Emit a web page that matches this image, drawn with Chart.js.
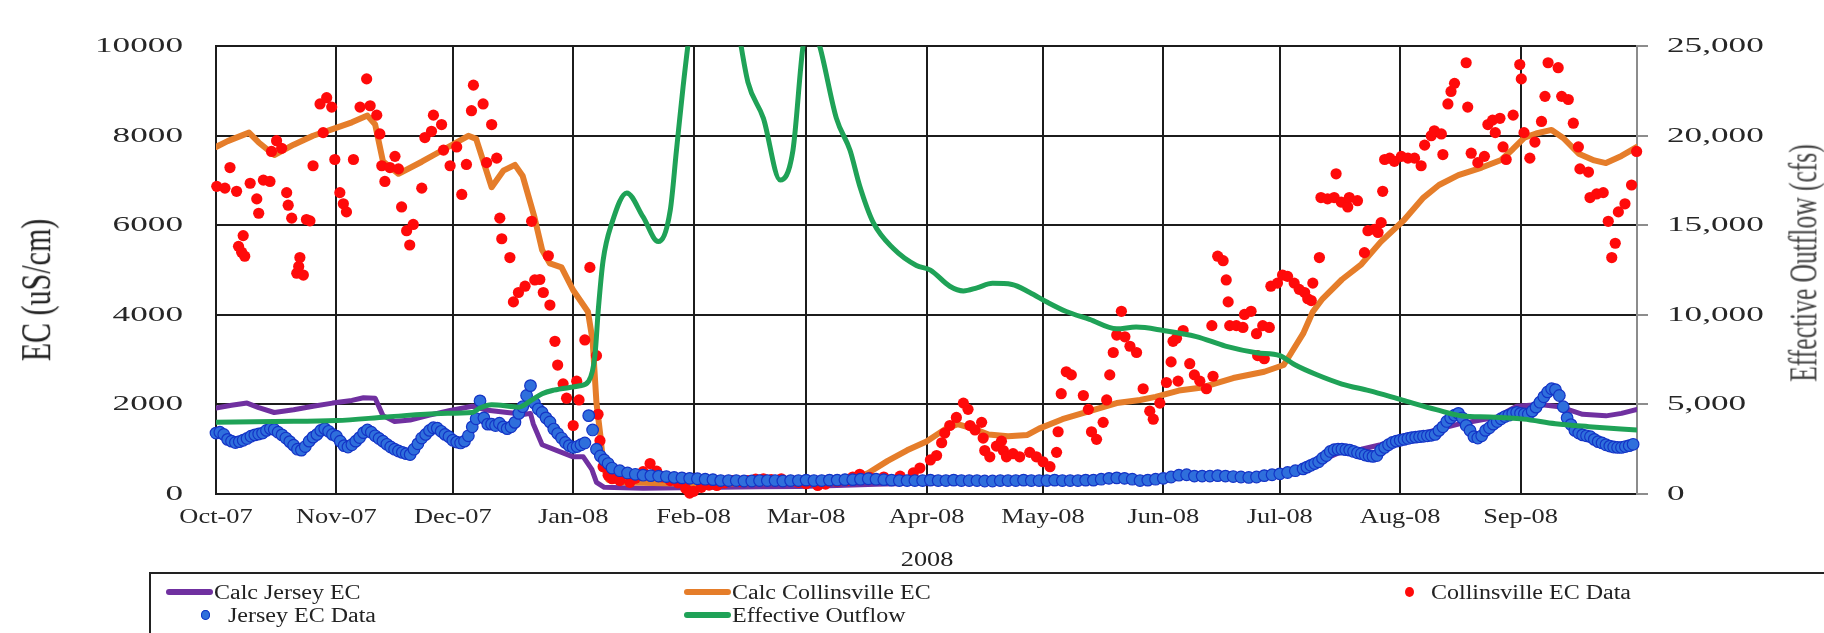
<!DOCTYPE html>
<html>
<head>
<meta charset="utf-8">
<title>EC and Effective Outflow, Oct 2007 - Sep 2008</title>
<script src="https://cdn.jsdelivr.net/npm/chart.js@4.4.1/dist/chart.umd.min.js"></script>
<style>
  html, body { margin: 0; padding: 0; background: #fff; }
  #stage { position: relative; width: 1824px; height: 633px; overflow: hidden; background: #fff; }
  #chart { position: absolute; left: 0; top: 0; }
  .txt { position: absolute; font-family: 'Liberation Serif', 'Times New Roman', serif; color: #222; white-space: nowrap; line-height: 1; }
  .title-left { left: 36px; top: 290px; font-size: 30px; transform: translate(-50%, -50%) rotate(-90deg) scaleY(1.4); }
  .title-right { left: 1803px; top: 263px; font-size: 25.5px; color: #444; transform: translate(-50%, -50%) rotate(-90deg) scaleY(1.6); }
  .year { left: 927px; top: 559px; font-size: 21px; transform: translate(-50%, -50%) scaleX(1.25); }
  .legend-box { position: absolute; left: 149px; top: 572px; width: 1720px; height: 100px; border-top: 2px solid #222; border-left: 2px solid #222; }
  .item { position: absolute; height: 22px; display: flex; align-items: center; }
  .sw-line { width: 47px; height: 6px; border-radius: 3px; }
  .sw-dot { width: 9px; height: 10px; border-radius: 50%; }
  .lbl { font-family: 'Liberation Serif', 'Times New Roman', serif; font-size: 20px; color: #222; white-space: nowrap; transform: scaleX(1.2); transform-origin: left center; }
</style>
</head>
<body>
<div id="stage">
  <canvas id="chart" width="1824" height="633"></canvas>
  <div class="txt title-left">EC (uS/cm)</div>
  <div class="txt title-right">Effective Outflow (cfs)</div>
  <div class="txt year">2008</div>
  <div class="legend-box"></div>
  <div class="item" style="left:166px; top:581px;"><div class="sw-line" style="background:#7030a0"></div><span class="lbl" style="margin-left:1px">Calc Jersey EC</span></div>
  <div class="item" style="left:684px; top:581px;"><div class="sw-line" style="background:#e57d2a"></div><span class="lbl" style="margin-left:1px">Calc Collinsville EC</span></div>
  <div class="item" style="left:1405px; top:581px;"><div class="sw-dot" style="background:#ff0a0a"></div><span class="lbl" style="margin-left:17px">Collinsville EC Data</span></div>
  <div class="item" style="left:201px; top:604px;"><div class="sw-dot" style="background:#2f6fdc; box-shadow: inset 0 0 0 1px #1131c4"></div><span class="lbl" style="margin-left:18px">Jersey EC Data</span></div>
  <div class="item" style="left:684px; top:604px;"><div class="sw-line" style="background:#1fa257"></div><span class="lbl" style="margin-left:1px">Effective Outflow</span></div>
</div>
<script>
// Month boundaries, counted in days from 1 Oct 2007
const monthStartDays = [0, 31, 61, 92, 123, 152, 183, 213, 244, 274, 305, 336, 366];
const monthLabels = ['Oct-07', 'Nov-07', 'Dec-07', 'Jan-08', 'Feb-08', 'Mar-08', 'Apr-08', 'May-08', 'Jun-08', 'Jul-08', 'Aug-08', 'Sep-08', ''];
const ecTickLabels = ['0', '2000', '4000', '6000', '8000', '10000'];
const flowTickLabels = ['0', '5,000', '10,000', '15,000', '20,000', '25,000'];

// Calc Jersey EC (uS/cm)
const calcJerseyDays = [0, 4, 8, 11, 15, 20, 25, 30, 35, 38, 41, 43, 46, 50, 55, 60, 66, 70, 75, 79.5,
  81, 81.7, 84, 87.7, 92, 94.6, 96.8, 98, 100, 110, 120, 130, 140, 150, 160, 170, 180, 190, 200, 210,
  220, 230, 240, 250, 260, 270, 275, 280, 285, 290, 295, 300, 305, 310, 315, 320, 325, 330, 335, 341,
  346, 352, 358, 362, 366];
const calcJerseyEC = [1920, 1980, 2030, 1930, 1820, 1880, 1960, 2030, 2090, 2150, 2140, 1750, 1620, 1650, 1760, 1860, 1960, 1870, 1820, 1780,
  1800, 1570, 1100, 975, 830, 830, 550, 260, 150, 130, 140, 150, 160, 170, 190, 220, 240, 250, 260, 260,
  280, 300, 320, 380, 400, 420, 450, 560, 760, 950, 1000, 1100, 1230, 1330, 1450, 1560, 1640, 1720, 1960, 2000,
  1950, 1780, 1745, 1800, 1890];

// Calc Collinsville EC (uS/cm)
const calcCollinsvilleDays = [0, 3, 8.5, 11, 15, 20, 25, 30, 35, 39, 41, 43, 47, 53, 59, 65, 67, 71, 74, 77,
  79, 82, 84, 86, 89, 92, 94, 95.8, 97, 98, 99, 99.8, 101, 105, 115, 125, 135, 145, 155, 160,
  163, 168, 173, 178, 183, 188, 191, 195, 199, 204, 209, 212, 218, 225, 232, 238, 242, 248, 254, 262,
  270, 275, 277, 280, 282.5, 285, 290, 295, 300, 306, 311, 315, 320, 326, 331, 334, 337, 340, 344, 347,
  351, 355, 358, 362, 366];
const calcCollinsvilleEC = [7750, 7880, 8070, 7850, 7570, 7800, 8000, 8150, 8300, 8450, 8250, 7430, 7150, 7420, 7710, 8000, 7930, 6850, 7220, 7350,
  7100, 6190, 5450, 5150, 5060, 4550, 4300, 4070, 3430, 2030, 1310, 610, 320, 260, 240, 230, 240, 250, 250, 260,
  300, 470, 740, 975, 1170, 1460, 1560, 1460, 1330, 1290, 1320, 1460, 1670, 1850, 2030, 2100, 2170, 2310, 2380, 2590,
  2730, 2880, 3160, 3580, 4070, 4360, 4790, 5130, 5630, 6120, 6620, 6900, 7120, 7290, 7460, 7700, 7960, 8050, 8130, 7950,
  7600, 7450, 7390, 7550, 7750];

// Collinsville EC Data (uS/cm)
const collinsvilleDays = [0.2, 2.3, 3.6, 5.3, 5.8, 6.6, 7, 7.4, 8.8, 10.5,
  11, 12.2, 13.9, 14.3, 15.6, 16.9, 18.2, 18.6, 19.5, 20.8,
  21.3, 21.6, 22.5, 23.3, 24.2, 25, 26.8, 27.6, 28.5, 29.8,
  30.6, 31.9, 32.8, 33.6, 35.4, 37.1, 38.8, 39.7, 41.4, 42.2,
  42.7, 43.5, 44.8, 46.1, 47, 47.8, 49.1, 49.9, 50.8, 53,
  53.8, 55.5, 56, 58.1, 58.6, 60.3, 62, 63.3, 64.5, 65.8,
  66.3, 68.8, 69.7, 71, 72.3, 73.1, 73.6, 75.7, 76.6, 77.9,
  79.6, 81.3, 82.1, 83.4, 84.3, 85.6, 86, 87.3, 88, 89.4,
  90.3, 92, 92.9, 93.5, 95, 96.3, 98, 98.4, 98.9, 99.7,
  101, 102, 104, 106.6, 108, 110, 111.8, 113.5, 115, 117,
  119, 121, 122, 123, 125, 127, 129, 131, 133, 135,
  137, 139, 141, 143, 145.6, 148, 150, 152, 155, 157,
  160, 162.5, 164, 165.8, 168.4, 172, 176.2, 179.6, 181.3, 184,
  185.6, 186.9, 187.7, 189, 190.7, 192.5, 193.7, 194.2, 195.5, 197.2,
  197.6, 198, 199.3, 201, 202.3, 202.8, 203.6, 205.3, 207, 209.6,
  211.3, 213, 214.8, 216.5, 216.9, 217.7, 219, 220.3, 223.4, 224.7,
  225.5, 226.8, 228.5, 229.4, 230.2, 231.1, 232, 233.2, 234.1, 235.4,
  237.1, 238.8, 240.5, 241.4, 243.1, 244.8, 246, 246.5, 247.4, 247.8,
  249.1, 250.8, 252, 253.4, 255.1, 256.5, 256.8, 258, 259.4, 260.2,
  260.7, 261.1, 262.8, 264.5, 264.9, 266.6, 268, 268.3, 269.6, 270,
  271.3, 271.7, 273.4, 274.7, 276, 277.7, 279, 280.4, 281.2, 282.1,
  282.5, 284.2, 284.6, 286.3, 288, 288.5, 289.8, 291.5, 291.9, 294,
  295.8, 296.7, 298.4, 299.3, 300.1, 300.5, 301, 302.3, 303.5, 305.3,
  307, 308.7, 310.4, 311.3, 313, 313.8, 315.6, 316, 317.3, 318.1,
  319, 322, 322.4, 323.3, 325, 326.7, 327.6, 328.8, 329.5, 330.7,
  331.5, 332.3, 334.1, 335.8, 336.2, 336.9, 338.4, 339.7, 341.4, 342.3,
  343.1, 345.7, 346.6, 348.3, 349.6, 350.9, 351.3, 353.5, 353.9, 355.6,
  357.3, 358.6, 359.5, 360.4, 361.2, 362.9, 364.6, 365.9];
const collinsvilleEC = [6870, 6830, 7290, 6760, 5530, 5400, 5770, 5310, 6940, 6590,
  6270, 7010, 6980, 7650, 7890, 7720, 6730, 6450, 6160, 4930,
  5080, 5280, 4890, 6130, 6100, 7330, 8710, 8070, 8850, 8640,
  7470, 6730, 6480, 6300, 7470, 8640, 9270, 8670, 8460, 8040,
  7330, 6980, 7290, 7540, 7260, 6410, 5880, 5560, 6020, 6830,
  7960, 8100, 8460, 8250, 7680, 7330, 7750, 6690, 7360, 8560,
  9130, 8710, 7400, 8250, 7500, 6160, 5700, 5280, 4290, 4500,
  4640, 6090, 4780, 4790, 4500, 5320, 4220, 3410, 2880, 2460,
  2140, 1530, 2520, 2100, 3440, 5060, 3090, 1780, 1190, 610,
  420, 340, 300, 260, 350, 500, 680, 510, 380, 300,
  250, 120, 20, 60, 150, 200, 190, 250, 300, 280,
  300, 330, 340, 320, 340, 300, 260, 230, 190, 220,
  280, 300, 380, 440, 370, 380, 400, 470, 580, 760,
  860, 1145, 1360, 1530, 1710, 2030, 1890, 1530, 1430, 1600,
  1250, 970, 830, 1070, 1180, 970, 830, 900, 830, 930,
  830, 720, 610, 930, 1390, 2240, 2730, 2660, 2200, 1890,
  1390, 1220, 1600, 2100, 2660, 3160, 3550, 4080, 3510, 3300,
  3160, 2350, 1850, 1670, 2030, 2490, 2950, 3410, 3480, 2520,
  3650, 2910, 2660, 2520, 2350, 3760, 2630, 5310, 5210, 4780,
  4290, 3760, 3760, 3720, 4010, 4080, 3580, 3090, 3760, 3020,
  3720, 4640, 4710, 4890, 4860, 4710, 4570, 4500, 4360, 4320,
  4710, 5280, 6620, 6590, 6620, 7150, 6520, 6410, 6620, 6550,
  5390, 5880, 5910, 5840, 6060, 6760, 7470, 7500, 7430, 7540,
  7500, 7500, 7330, 7790, 8000, 8110, 8040, 7580, 8710, 8990,
  9170, 9630, 8640, 7610, 7400, 7540, 8250, 8350, 8070, 8390,
  7750, 7470, 8460, 9590, 9270, 8070, 7500, 7860, 8320, 8880,
  9630, 9520, 8880, 8810, 8280, 7750, 7260, 7190, 6620, 6700,
  6730, 6090, 5280, 5600, 6300, 6480, 6900, 7650];

// Jersey EC Data (uS/cm)
const jerseyDays = [0, 1, 2, 3, 4, 5, 6, 7, 8, 9,
  10, 11, 12, 13, 14, 15, 16, 17, 18, 19,
  20, 21, 22, 23, 24, 25, 26, 27, 28, 29,
  30, 31, 32, 33, 34, 35, 36, 37, 38, 39,
  40, 41, 42, 43, 44, 45, 46, 47, 48, 49,
  50, 51, 52, 53, 54, 55, 56, 57, 58, 59,
  60, 61, 62, 63, 64, 65, 66, 67, 68, 69,
  70, 71, 72, 73, 74, 75, 76, 77, 78, 79,
  80, 81, 82, 83, 84, 85, 86, 87, 88, 89,
  90, 91, 92, 93, 94, 95, 96, 97, 98, 99,
  100, 101,
  102, 104, 106, 108, 110, 112, 114, 116, 118, 120,
  122, 124, 126, 128, 130, 132, 134, 136, 138, 140,
  142, 144, 146, 148, 150, 152, 154, 156, 158, 160,
  162, 164, 166, 168, 170, 172, 174, 176, 178, 180,
  182, 184, 186, 188, 190, 192, 194, 196, 198, 200,
  202, 204, 206, 208, 210, 212, 214, 216, 218, 220,
  222, 224, 226, 228, 230, 232, 234, 236, 238, 240,
  242, 244, 246, 248, 250, 252, 254, 256, 258, 260,
  262, 264, 266, 268, 270, 272, 274, 276, 278, 280,
  281, 282, 283, 284, 285, 286, 287, 288, 289, 290,
  291, 292, 293, 294, 295, 296, 297, 298, 299, 300,
  301, 302, 303, 304, 305, 306, 307, 308, 309, 310,
  311, 312, 313, 314, 315, 316, 317, 318, 319, 320,
  321, 322, 323, 324, 325, 326, 327, 328, 329, 330,
  331, 332, 333, 334, 335, 336, 337, 338, 339, 340,
  341, 342, 343, 344, 345, 346, 347, 348, 349, 350,
  351, 352, 353, 354, 355, 356, 357, 358, 359, 360,
  361, 362, 363, 364, 365];
const jerseyEC = [1360, 1380, 1330, 1220, 1180, 1150, 1170, 1200, 1240, 1290,
  1320, 1340, 1360, 1420, 1460, 1440, 1380, 1320, 1250, 1170,
  1090, 1000, 980, 1060, 1180, 1270, 1330, 1420, 1460, 1400,
  1330, 1290, 1180, 1080, 1050, 1100, 1180, 1260, 1370, 1430,
  1380, 1300, 1240, 1180, 1110, 1050, 1000, 960, 930, 900,
  880, 1000, 1120, 1250, 1330, 1420, 1480, 1470, 1400, 1330,
  1280, 1200, 1160, 1140, 1180, 1300, 1500, 1680, 2080, 1700,
  1560, 1560, 1530, 1580, 1500, 1460, 1500, 1600, 1800, 1950,
  2200, 2420, 2030, 1900, 1820, 1700, 1610, 1450, 1350, 1250,
  1150, 1080, 1040, 1060, 1100, 1140, 1750, 1430, 1000, 850,
  760, 680,
  580, 520, 470, 440, 420, 410, 400, 390, 370, 360,
  350, 340, 330, 320, 300, 300, 300, 290, 290, 300,
  300, 300, 290, 300, 300, 310, 300, 300, 310, 310,
  320, 320, 330, 340, 330, 320, 310, 300, 300, 300,
  300, 310, 300, 300, 310, 300, 300, 300, 290, 290,
  300, 300, 300, 310, 300, 300, 300, 310, 300, 300,
  300, 310, 310, 330, 350, 360, 350, 330, 300, 310,
  330, 350, 380, 420, 430, 400, 400, 400, 410, 400,
  390, 380, 370, 380, 410, 430, 450, 480, 520, 560,
  600, 640, 680, 720, 800, 860, 950, 990, 1000, 1000,
  990, 980, 950, 920, 900, 870, 850, 840, 860, 980,
  1040, 1100, 1150, 1180, 1200, 1220, 1240, 1260, 1270, 1280,
  1290, 1300, 1310, 1330, 1420, 1500, 1620, 1700, 1760, 1800,
  1700, 1530, 1420, 1280, 1250, 1300, 1420, 1480, 1560, 1620,
  1680, 1730, 1760, 1800, 1820, 1800, 1790, 1780, 1850, 1940,
  2050, 2170, 2280, 2350, 2330, 2200, 1950, 1700, 1550, 1420,
  1360, 1320, 1300, 1280, 1220, 1170, 1140, 1100, 1070, 1050,
  1040, 1040, 1060, 1080, 1110];

// Effective Outflow (cfs), right axis
const outflowDays = [0, 15, 31, 44, 58, 66, 68, 71, 76, 78,
  81, 84, 87, 93.7, 96, 97.6, 98.5, 99.7, 102, 105.8,
  110, 113.9, 117, 118.6, 120.3, 122, 126, 130, 134, 137,
  141, 145.3, 148.6, 151.2, 153, 155.5, 159.8, 163.3, 165.8, 169.3,
  174.4, 180.4, 184, 189, 192.5, 196, 200, 205, 209.6, 214,
  219, 225, 232, 237, 244, 252.5, 260, 268, 274, 278,
  283.4, 290, 297, 305.6, 314.3, 321, 328, 336.8, 345, 353.6,
  366];
const outflowCfs = [4010, 4050, 4100, 4300, 4500, 4550, 4800, 4980, 4890, 4850,
  5200, 5600, 5800, 6040, 6300, 7730, 10380, 13030, 15150, 16810,
  15470, 14090, 15840, 19190, 22720, 25800, 31000, 30000, 26500, 23000,
  20970, 17530, 19190, 25000, 26500, 25000, 20970, 19190, 17200, 15150,
  13720, 12760, 12500, 11600, 11340, 11510, 11760, 11700, 11250, 10720,
  10190, 9750, 9220, 9320, 9130, 8790, 8260, 7890, 7730, 7200,
  6670, 6140, 5770, 5240, 4710, 4360, 4300, 4180, 3920, 3760,
  3570];

const toPoints = (xs, ys) => xs.map((x, i) => ({ x: x, y: ys[i] }));

// Tick labels are drawn a little wider than the font's natural proportions.
const labelStretch = { x: 1.2, y: 1.6, y1: 1.6 };
const stretchLabels = {
  id: 'stretchLabels',
  beforeDraw(chart) {
    Object.values(chart.scales).forEach((scale) => {
      if (scale.__stretched) return;
      const k = labelStretch[scale.id] || 1;
      const drawLabels = scale.drawLabels;
      scale.drawLabels = function (area) {
        const c = this.ctx;
        const fill = c.fillText;
        c.fillText = function (text, x, y, maxWidth) {
          this.save();
          this.translate(x, y);
          this.scale(k, 1);
          if (maxWidth === undefined) fill.call(this, text, 0, 0);
          else fill.call(this, text, 0, 0, maxWidth / k);
          this.restore();
        };
        try { drawLabels.call(this, area); } finally { delete c.fillText; }
      };
      scale.__stretched = true;
    });
  }
};

Chart.defaults.font.family = "'Liberation Serif', 'Times New Roman', serif";

const gridBlack = '#1c1c1c';
const tickText = '#262626';

new Chart(document.getElementById('chart'), {
  type: 'scatter',
  data: {
    datasets: [
      {
        label: 'Calc Jersey EC',
        data: toPoints(calcJerseyDays, calcJerseyEC),
        yAxisID: 'y', showLine: true,
        borderColor: '#7030a0', borderWidth: 5,
        borderJoinStyle: 'round', borderCapStyle: 'round',
        pointRadius: 0, pointHoverRadius: 0, tension: 0,
        order: 4
      },
      {
        label: 'Calc Collinsville EC',
        data: toPoints(calcCollinsvilleDays, calcCollinsvilleEC),
        yAxisID: 'y', showLine: true,
        borderColor: '#e57d2a', borderWidth: 6,
        borderJoinStyle: 'round', borderCapStyle: 'round',
        pointRadius: 0, pointHoverRadius: 0, tension: 0,
        order: 3
      },
      {
        label: 'Collinsville EC Data',
        data: toPoints(collinsvilleDays, collinsvilleEC),
        yAxisID: 'y', showLine: false,
        pointRadius: 5.6, pointBackgroundColor: '#ff0a0a', pointBorderWidth: 0,
        clip: false,
        order: 2
      },
      {
        label: 'Jersey EC Data',
        data: toPoints(jerseyDays, jerseyEC),
        yAxisID: 'y', showLine: false,
        pointRadius: 5.8, pointBackgroundColor: '#2f6fdc', pointBorderColor: '#1434c6', pointBorderWidth: 1.2,
        clip: false,
        order: 1
      },
      {
        label: 'Effective Outflow',
        data: toPoints(outflowDays, outflowCfs),
        yAxisID: 'y1', showLine: true,
        borderColor: '#1fa257', borderWidth: 5,
        borderJoinStyle: 'round', borderCapStyle: 'round',
        pointRadius: 0, pointHoverRadius: 0,
        tension: 0.4, cubicInterpolationMode: 'monotone',
        clip: 0,
        order: 0
      }
    ]
  },
  options: {
    responsive: false,
    devicePixelRatio: 1,
    animation: false,
    events: [],
    layout: { padding: { top: 22, left: 0, right: 0, bottom: 0 } },
    plugins: { legend: { display: false }, tooltip: { enabled: false } },
    scales: {
      x: {
        type: 'linear', min: 0, max: 366,
        afterBuildTicks: (s) => { s.ticks = monthStartDays.map((v) => ({ value: v })); },
        afterFit: (s) => { s.height = 139; },
        ticks: {
          autoSkip: false, maxRotation: 0, minRotation: 0, padding: 10,
          color: tickText, font: { size: 22 },
          callback: (v, i) => monthLabels[i]
        },
        grid: {
          drawTicks: false, lineWidth: 2,
          color: (c) => (c.index === monthStartDays.length - 1 ? 'rgba(0,0,0,0)' : gridBlack)
        },
        border: { color: gridBlack, width: 2 }
      },
      y: {
        position: 'left', min: 0, max: 10000,
        afterFit: (s) => { s.width = 216; },
        ticks: {
          stepSize: 2000, padding: 33, color: tickText, font: { size: 22 },
          callback: (v, i) => ecTickLabels[i]
        },
        grid: { drawTicks: false, color: gridBlack, lineWidth: 2 },
        border: { color: gridBlack, width: 2 }
      },
      y1: {
        position: 'right', min: 0, max: 25000,
        afterFit: (s) => { s.width = 187; },
        ticks: {
          stepSize: 5000, padding: 19, color: tickText, font: { size: 22 },
          callback: (v, i) => flowTickLabels[i]
        },
        grid: { drawOnChartArea: false, drawTicks: true, tickLength: 11, color: '#8c8c8c', lineWidth: 2 },
        border: { color: '#8c8c8c', width: 2 }
      }
    }
  },
  plugins: [stretchLabels]
});
</script>
</body>
</html>
